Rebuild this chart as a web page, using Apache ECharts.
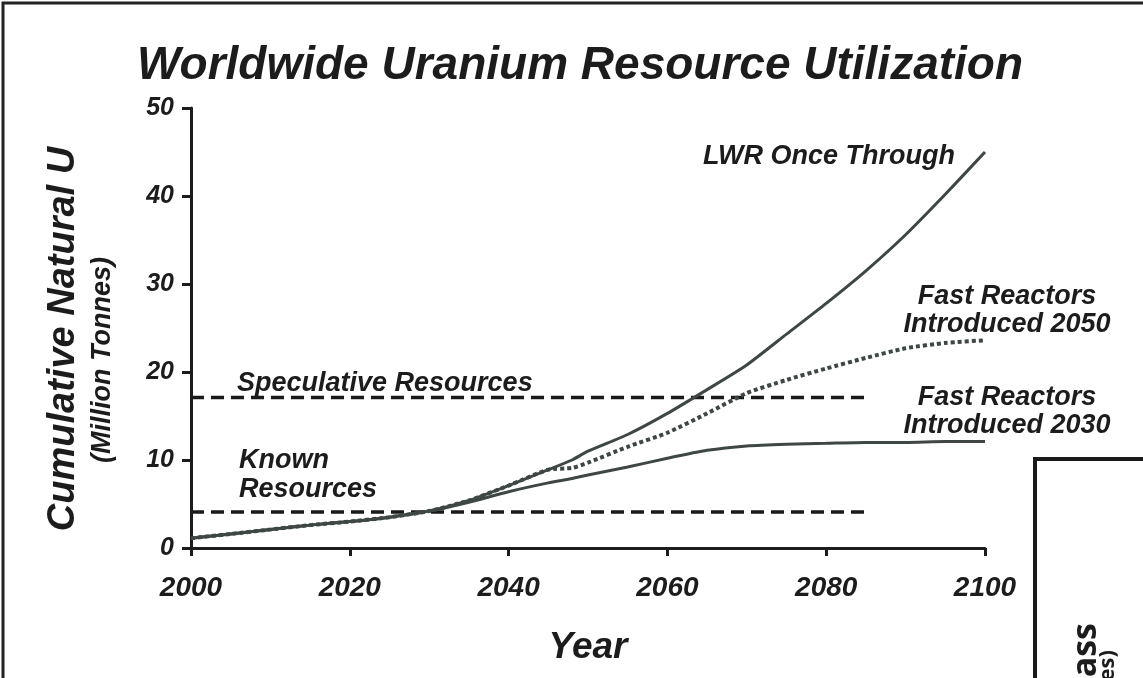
<!DOCTYPE html>
<html><head><meta charset="utf-8">
<script src="https://cdn.jsdelivr.net/npm/echarts@6/dist/echarts.min.js"></script>
<style>html,body{margin:0;padding:0;background:#fff}#c{width:1143px;height:678px}</style>
</head><body><div id="c"></div>
<script>
const years = [2000,2005,2010,2015,2020,2025,2030,2035,2040,2045,2048,2050,2055,2060,2065,2070,2075,2080,2085,2090,2095,2100];
const lwrOnceThrough = [1.1,1.6,2.1,2.6,3.0,3.5,4.2,5.4,7.1,8.9,10.0,11.0,12.9,15.3,18.0,20.8,24.3,27.8,31.5,35.6,40.2,45.0];
const fast2050 = [1.1,1.6,2.1,2.6,3.0,3.5,4.2,5.4,7.1,8.9,9.1,9.7,11.5,13.1,15.3,17.6,19.1,20.4,21.6,22.7,23.3,23.6];
const fast2030 = [1.1,1.6,2.1,2.6,3.0,3.5,4.2,5.2,6.4,7.4,7.9,8.3,9.2,10.2,11.1,11.6,11.8,11.9,12.0,12.0,12.1,12.1];
const resourceYears = [2000,2085];
const speculativeResources = 17.1;
const knownResources = 4.1;
const xTicks = [2000,2020,2040,2060,2080,2100];
const yTicks = [0,10,20,30,40,50];

const pairs = (xs, ys) => xs.map((x,i)=>[x, ys[i]]);
const flat = (xs, v) => xs.map(x=>[x, v]);

const FONT = '"Liberation Sans", Arial, sans-serif';
const TXT = '#1c1c1c';
const LINE = '#3d4845';

const chart = echarts.init(document.getElementById('c'), null, {renderer:'canvas'});
const txt = (x,y,text,size,align,extra) => Object.assign({
  type:'text', x:x, y:y, silent:true,
  style:{text:text, fill:TXT, font:'italic bold '+size+'px '+FONT, align:align||'left', verticalAlign:'middle'}
}, extra||{});

chart.setOption({
  animation:false,
  backgroundColor:'#fff',
  grid:{left:191, right:158, top:108, bottom:130, containLabel:false},
  xAxis:{
    type:'value', min:2000, max:2100, interval:20,
    axisLine:{show:true, onZero:false, lineStyle:{color:'#1c1c1c', width:3}},
    axisTick:{show:true, length:8, lineStyle:{color:'#1c1c1c', width:3}},
    axisLabel:{color:TXT, fontSize:28, fontWeight:'bold', fontStyle:'italic', fontFamily:FONT, margin:26,
      formatter:v=>xTicks.includes(v)?String(v):''},
    splitLine:{show:false},
    name:'Year', nameLocation:'middle', nameGap:81,
    nameTextStyle:{color:TXT, fontSize:37, fontWeight:'bold', fontStyle:'italic', fontFamily:FONT}
  },
  yAxis:{
    type:'value', min:0, max:50, interval:10,
    axisLine:{show:true, lineStyle:{color:'#1c1c1c', width:3}},
    axisTick:{show:true, length:9, lineStyle:{color:'#1c1c1c', width:3}},
    axisLabel:{color:TXT, fontSize:25, fontWeight:'bold', fontStyle:'italic', fontFamily:FONT, margin:17,
      formatter:v=>yTicks.includes(v)?String(v):''},
    splitLine:{show:false}
  },
  series:[
    {type:'line', name:'Speculative Resources', data:flat(resourceYears, speculativeResources), symbol:'none',
      lineStyle:{color:'#1a1a1a', width:3.5, type:[13,7]}, z:1},
    {type:'line', name:'Known Resources', data:flat(resourceYears, knownResources), symbol:'none',
      lineStyle:{color:'#1a1a1a', width:3.5, type:[13,7]}, z:1},
    {type:'line', name:'Fast Reactors Introduced 2050', data:pairs(years, fast2050), symbol:'none', smooth:0.2,
      lineStyle:{color:LINE, width:4, type:[4,3], cap:'butt'}, z:3},
    {type:'line', name:'Fast Reactors Introduced 2030', data:pairs(years, fast2030), symbol:'none', smooth:0.2,
      lineStyle:{color:LINE, width:3}, z:2},
    {type:'line', name:'LWR Once Through', data:pairs(years, lwrOnceThrough), symbol:'none', smooth:0.2,
      lineStyle:{color:LINE, width:3}, z:4}
  ],
  graphic:[
    {type:'polyline', shape:{points:[[3,700],[3,3],[1145,3]]}, style:{fill:'none', stroke:'#222', lineWidth:3}, silent:true},
    {type:'polyline', shape:{points:[[1035,700],[1035,459],[1145,459]]}, style:{fill:'none', stroke:'#1a1a1a', lineWidth:4}, silent:true},
    txt(580, 66, 'Worldwide Uranium Resource Utilization', 46, 'center'),
    txt(64, 339, 'Cumulative Natural U', 38, 'center', {rotation:Math.PI/2}),
    txt(103, 360, '(Million Tonnes)', 27, 'center', {rotation:Math.PI/2}),
    txt(703, 157, 'LWR Once Through', 27, 'left'),
    txt(1007, 297, 'Fast Reactors', 27, 'center'),
    txt(1007, 325, 'Introduced 2050', 27, 'center'),
    txt(1007, 398, 'Fast Reactors', 27, 'center'),
    txt(1007, 426, 'Introduced 2030', 27, 'center'),
    txt(237, 384, 'Speculative Resources', 27, 'left'),
    txt(239, 461, 'Known', 27, 'left'),
    txt(239, 490, 'Resources', 27, 'left'),
    {type:'text', x:1086, y:623, rotation:Math.PI/2, silent:true,
      style:{text:'Mass', fill:TXT, font:'bold 34px "Open Sans", sans-serif', align:'right', verticalAlign:'middle'}},
    {type:'text', x:1108, y:650, rotation:Math.PI/2, silent:true,
      style:{text:'(Tonnes)', fill:TXT, font:'bold 22px "Open Sans", sans-serif', align:'right', verticalAlign:'middle'}}
  ]
});
</script></body></html>
